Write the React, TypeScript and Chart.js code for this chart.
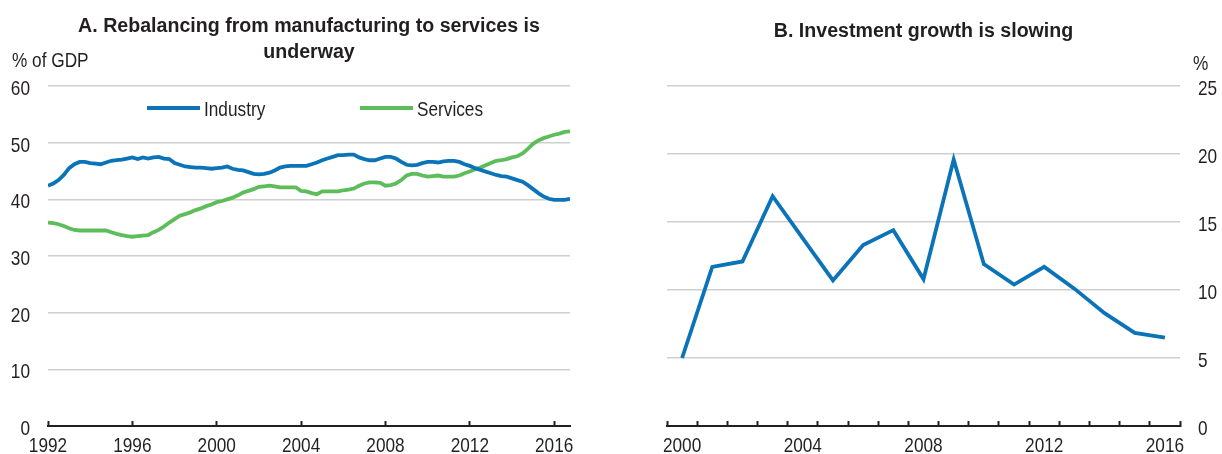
import React, { useEffect, useRef } from 'react';
import Chart from 'chart.js/auto';

// Arial-metric font; body text is squeezed horizontally to look like the narrow face of the original
const FONT = "'Liberation Sans', Arial, sans-serif";
const SQUEEZE = 0.82;
const TEXT = '#231f20';
const BLUE = '#0b74b9';
const GREEN = '#5dbd5b';
const GRID = '#cfcfcf';

// Panel A: quarterly shares, % of GDP, 1992Q1 - 2016Q4
const startYear = 1992;
const industry = [
  42.4, 42.8, 43.4, 44.3, 45.5, 46.2, 46.6, 46.6, 46.4, 46.3, 46.2, 46.5,
  46.8, 46.9, 47.0, 47.2, 47.4, 47.1, 47.4, 47.2, 47.4, 47.5, 47.2, 47.1,
  46.4, 46.1, 45.8, 45.7, 45.6, 45.6, 45.5, 45.4, 45.5, 45.6, 45.8, 45.4,
  45.2, 45.1, 44.8, 44.5, 44.4, 44.5, 44.7, 45.1, 45.6, 45.8, 45.9, 45.9,
  45.9, 45.9, 46.2, 46.5, 46.9, 47.2, 47.5, 47.8, 47.8, 47.9, 47.9, 47.4,
  47.1, 46.9, 46.9, 47.2, 47.5, 47.5, 47.2, 46.6, 46.1, 46.0, 46.1, 46.4,
  46.6, 46.6, 46.5, 46.7, 46.8, 46.8, 46.6, 46.2, 45.9, 45.5, 45.2, 44.9,
  44.6, 44.3, 44.1, 44.0, 43.7, 43.4, 43.1, 42.5, 41.8, 41.1, 40.5, 40.1,
  39.9, 39.9, 39.9, 40.1,
];
const services = [
  35.9, 35.8, 35.6, 35.3, 34.9, 34.6, 34.5, 34.5, 34.5, 34.5, 34.5, 34.5,
  34.2, 33.9, 33.7, 33.5, 33.4, 33.5, 33.6, 33.7, 34.2, 34.6, 35.2, 35.9,
  36.5, 37.1, 37.4, 37.7, 38.1, 38.4, 38.8, 39.1, 39.5, 39.7, 40.0, 40.3,
  40.7, 41.2, 41.5, 41.8, 42.2, 42.3, 42.4, 42.3, 42.1, 42.1, 42.1, 42.1,
  41.5, 41.4, 41.1, 40.9, 41.4, 41.4, 41.4, 41.4, 41.6, 41.7, 41.9, 42.4,
  42.8, 43.0, 43.0, 42.9, 42.4, 42.5, 42.8, 43.4, 44.2, 44.5, 44.5, 44.2,
  44.0, 44.1, 44.2, 44.0, 44.0, 44.0, 44.2, 44.6, 44.9, 45.3, 45.6, 46.0,
  46.4, 46.8, 46.9, 47.1, 47.4, 47.6, 48.1, 48.9, 49.8, 50.4, 50.8, 51.1,
  51.4, 51.6, 51.9, 52.0,
];
const quarters = industry.map((_, i) => startYear + i / 4);

// Panel B: annual investment growth, %
const invYears = ['2000', '2001', '2002', '2003', '2004', '2005', '2006', '2007', '2008',
  '2009', '2010', '2011', '2012', '2013', '2014', '2015', '2016'];
const investment = [5.0, 11.7, 12.1, 16.9, 13.8, 10.7, 13.3, 14.4, 10.8, 19.6, 11.9, 10.4,
  11.7, 10.1, 8.3, 6.85, 6.5];

const narrow = (ctx: CanvasRenderingContext2D, text: string, x: number, y: number, align: CanvasTextAlign, sx = SQUEEZE) => {
  ctx.save();
  ctx.translate(x, y);
  ctx.scale(sx, 1);
  ctx.textAlign = align;
  ctx.fillText(text, 0, 0);
  ctx.restore();
};

// titles, unit labels, tick labels and the in-plot legend
const panelText = {
  id: 'panelText',
  afterDraw(chart: any, _args: any, opts: any) {
    const { ctx, chartArea } = chart;
    ctx.save();
    ctx.fillStyle = TEXT;
    ctx.textBaseline = 'alphabetic';

    ctx.font = `bold 20px ${FONT}`;
    const cx = (chartArea.left + chartArea.right) / 2;
    opts.title.forEach((line: string, k: number) => narrow(ctx, line, cx, opts.titleY + k * 26.6, 'center', 0.98));

    ctx.font = `21px ${FONT}`;
    narrow(ctx, opts.unit, opts.unitX, opts.unitY, 'left');

    Object.values(chart.scales).forEach((s: any) => {
      s.ticks.forEach((t: any, i: number) => {
        const label = String(t.label ?? '');
        if (!label) return;
        const p = s.getPixelForTick(i);
        if (s.isHorizontal()) narrow(ctx, label, p, 452, 'center');
        else if (s.position === 'left') narrow(ctx, label, chartArea.left - 18, p + 9, 'right');
        else narrow(ctx, label, chartArea.right + 18, p + 9, 'left');
      });
    });

    (opts.legendX || []).forEach((lx: number, k: number) => {
      const ds = chart.data.datasets[k];
      ctx.strokeStyle = ds.borderColor;
      ctx.lineWidth = 4;
      ctx.beginPath();
      ctx.moveTo(lx, opts.legendY);
      ctx.lineTo(lx + 53, opts.legendY);
      ctx.stroke();
      narrow(ctx, ds.label, lx + 57, opts.legendY + 7.5, 'left');
    });
    ctx.restore();
  },
};

const xGrid = { drawOnChartArea: false, drawTicks: true, tickLength: -5, tickColor: TEXT, tickWidth: 2 };
const xBorder = { display: true, color: TEXT, width: 2 };
const yGrid = { color: GRID, lineWidth: 1.5, drawTicks: false };

export default function App() {
  const leftRef = useRef<HTMLCanvasElement>(null);
  const rightRef = useRef<HTMLCanvasElement>(null);

  useEffect(() => {
    Chart.defaults.font.family = FONT;
    Chart.defaults.font.size = 21;
    Chart.defaults.color = TEXT;

    const left = new Chart(leftRef.current!, {
      type: 'line',
      data: {
        datasets: [
          { label: 'Industry', data: industry.map((v, i) => ({ x: quarters[i], y: v })), borderColor: BLUE, borderWidth: 3.8, pointRadius: 0, tension: 0 },
          { label: 'Services', data: services.map((v, i) => ({ x: quarters[i], y: v })), borderColor: GREEN, borderWidth: 3.8, pointRadius: 0, tension: 0 },
        ],
      },
      options: {
        animation: false,
        responsive: false,
        layout: { padding: { top: 86, right: 40, left: 0, bottom: 0 } },
        plugins: {
          legend: { display: false },
          tooltip: { enabled: false },
          panelText: {
            title: ['A. Rebalancing from manufacturing to services is', 'underway'],
            titleY: 31.7,
            unit: '% of GDP',
            unitX: 12,
            unitY: 66.7,
            legendX: [147, 360],
            legendY: 108,
          },
        } as any,
        scales: {
          x: {
            type: 'linear',
            min: startYear,
            max: quarters[quarters.length - 1],
            ticks: { display: false, stepSize: 4, includeBounds: false, autoSkip: false, callback: (v: any) => String(v) },
            grid: xGrid,
            border: xBorder,
            afterFit: (s: any) => { s.height = 28; },
          },
          y: {
            min: 0,
            max: 60,
            ticks: { display: false, stepSize: 10 },
            grid: yGrid,
            border: { display: false },
            afterFit: (s: any) => { s.width = 48; },
          },
        },
      },
      plugins: [panelText],
    });

    const right = new Chart(rightRef.current!, {
      type: 'line',
      data: {
        labels: invYears,
        datasets: [
          { label: 'Investment growth', data: investment, borderColor: BLUE, borderWidth: 3.8, pointRadius: 0, tension: 0 },
        ],
      },
      options: {
        animation: false,
        responsive: false,
        layout: { padding: { top: 86, right: 0, left: 57, bottom: 0 } },
        plugins: {
          legend: { display: false },
          tooltip: { enabled: false },
          panelText: {
            title: ['B. Investment growth is slowing'],
            titleY: 37.3,
            unit: '%',
            unitX: 583,
            unitY: 70,
          },
        } as any,
        scales: {
          x: {
            type: 'category',
            offset: true,
            ticks: { display: false, autoSkip: false, callback: (_v: any, i: number) => (i % 4 === 0 ? invYears[i] : '') },
            grid: { ...xGrid, offset: true },
            border: xBorder,
            afterFit: (s: any) => { s.height = 28; },
          },
          y: {
            position: 'right',
            min: 0,
            max: 25,
            ticks: { display: false, stepSize: 5 },
            grid: yGrid,
            border: { display: false },
            afterFit: (s: any) => { s.width = 42; },
          },
        },
      },
      plugins: [panelText],
    });

    return () => {
      left.destroy();
      right.destroy();
    };
  }, []);

  return (
    <div style={{ position: 'absolute', left: 0, top: 0, width: 1222, height: 454, background: '#fff' }}>
      <canvas ref={leftRef} width={610} height={454} style={{ position: 'absolute', left: 0, top: 0 }} />
      <canvas ref={rightRef} width={612} height={454} style={{ position: 'absolute', left: 610, top: 0 }} />
    </div>
  );
}
